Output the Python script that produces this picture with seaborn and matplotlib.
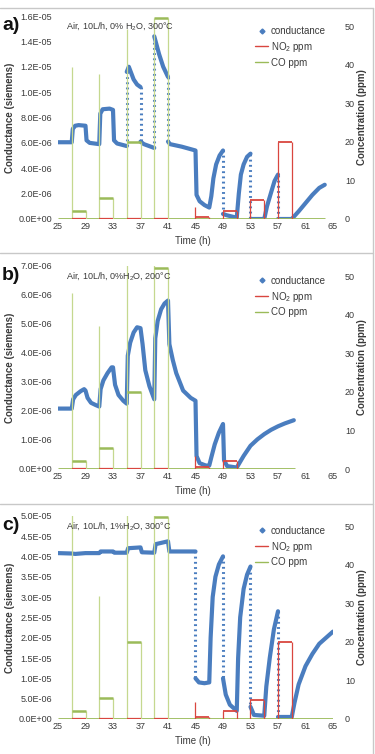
import numpy as np
import pandas as pd
import matplotlib
matplotlib.use('Agg')
import matplotlib.pyplot as plt
from matplotlib.lines import Line2D
from matplotlib.ticker import FuncFormatter
import seaborn as sns

sns.set_theme(style='white')
plt.rcParams['font.family'] = ['Liberation Sans', 'DejaVu Sans']
plt.rcParams['mathtext.default'] = 'regular'

BLUE = '#4a7dbf'
RED = '#d9463f'
GREEN = '#9bbb59'
GREEN_LT = '#c5d88f'
TXT = '#3a3a3a'

# ── data ──────────────────────────────────────────────────────────
# conductance; equal consecutive times mark a fast jump (drawn dotted)
time_a = [25, 27, 27.15, 27.5, 28, 29, 29.15, 29.6, 31, 31.15, 31.5, 32.5, 33, 33.15,
          33.6, 35, 35, 35.3, 36, 36.5, 37, 37, 37.5, 39, 39, 39.3, 39.7, 40.3, 41, 41,
          41.3, 43, 45, 45.15, 45.6, 46.3, 47, 47.3, 47.6, 48, 48.5, 49, 49, 49.5, 51,
          51.3, 51.6, 52, 52.5, 53, 53, 55, 55.4, 56, 56.5, 57, 57, 59, 59.5, 60, 61,
          62, 63, 63.8]
cond_a = [6.05, 6.05, 7.1, 7.35, 7.4, 7.35, 6.2, 6.0, 5.9, 8.3, 8.65, 8.7, 8.6, 6.2,
          5.95, 5.75, 11.6, 12.0, 11.0, 10.6, 10.4, 6.1, 5.9, 5.6, 14.4, 13.8, 13.0,
          12.0, 11.2, 6.1, 5.9, 5.7, 5.4, 1.9, 1.4, 1.1, 0.9, 1.8, 3.2, 4.3, 5.0, 5.4,
          0.4, 0.3, 0.1, 2.0, 3.5, 4.3, 4.9, 5.15, 0.0, 0.0, 1.0, 2.1, 3.0, 3.5, 0.0,
          0.0, 0.3, 0.6, 1.25, 1.9, 2.45, 2.7]  # x 1e-6 S

time_b = [25, 27, 27.2, 27.6, 28.3, 28.8, 29, 29.3, 29.8, 30.5, 31, 31.2, 31.6, 32.2,
          32.8, 33, 33.3, 33.8, 34.5, 35, 35.15, 35.5, 36, 36.5, 37, 37.3, 37.7, 38.3,
          39, 39.15, 39.5, 40, 40.5, 41, 41.2, 41.7, 42.2, 43.2, 44.3, 45, 45.15, 45.6,
          46.5, 47, 47.3, 47.8, 48.4, 49, 49.15, 49.6, 51, 51.5, 52, 53, 54, 55, 56,
          57, 58, 59.3]
cond_b = [2.08, 2.08, 2.4, 2.55, 2.68, 2.75, 2.7, 2.45, 2.28, 2.2, 2.15, 2.75, 3.05,
          3.3, 3.5, 3.5, 2.9, 2.55, 2.35, 2.25, 3.9, 4.35, 4.7, 4.88, 4.85, 4.3, 3.4,
          2.85, 2.4, 4.5, 5.1, 5.5, 5.7, 5.8, 4.3, 3.75, 3.3, 2.7, 2.45, 2.35, 0.45,
          0.2, 0.12, 0.12, 0.4, 0.85, 1.25, 1.55, 0.3, 0.1, 0.05, 0.25, 0.45, 0.8,
          1.02, 1.2, 1.35, 1.47, 1.57, 1.68]  # x 1e-6 S

time_c = [25, 27, 27.5, 29, 31, 31.2, 33, 33.2, 35, 35.2, 37, 37.2, 39, 39.2, 41, 41.2,
          45, 45, 45.5, 46.3, 47, 47.2, 47.5, 47.9, 48.4, 49, 49, 49.4, 50, 51, 51.2,
          51.5, 52, 52.5, 53, 53, 53.5, 55, 55.3, 55.8, 56.4, 57, 57, 59, 59.4, 60, 61,
          62, 63, 64, 65]
cond_c = [4.08, 4.07, 4.06, 4.08, 4.08, 4.12, 4.12, 4.09, 4.09, 4.2, 4.22, 4.1, 4.09,
          4.3, 4.37, 4.12, 4.12, 1.0, 0.9, 0.88, 0.9, 2.0, 3.0, 3.5, 3.8, 4.0, 1.0, 0.6,
          0.35, 0.2, 1.5, 2.5, 3.2, 3.55, 3.75, 0.3, 0.1, 0.08, 0.8, 1.5, 2.2, 2.65,
          0.05, 0.05, 0.4, 0.85, 1.3, 1.6, 1.85, 2.0, 2.15]  # x 1e-5 S

# gas pulses (2 h each): start time, plateau and opening peak in ppm
co_start = [27, 31, 35, 39]
co_level_a = [2, 5.5, 20, 52.2]
co_peak_a = [39.5, 37.6, 49.4, 52.2]
co_level_b = [2, 5.5, 20, 52.2]
co_peak_b = [45.5, 37, 60, 60]
co_level_c = [2, 5.5, 20, 52.4]
co_peak_c = [60, 32, 60, 60]

no2_start_a = [45, 49, 53, 57]
no2_level_a = [0.5, 2, 5, 20]
no2_peak_a = [3.2, 2, 5, 20]
no2_start_b = [45, 49]
no2_level_b = [0.6, 2]
no2_peak_b = [3.4, 2]
no2_start_c = [45, 49, 53, 57]
no2_level_c = [0.6, 2.1, 5, 20]
no2_peak_c = [4.5, 2.1, 5, 20]

end_time = [63.8, 59.5, 65]
cond_scale = [1e-6, 1e-6, 1e-5]
cond_max = [1.6e-5, 7e-6, 5e-5]
cond_step = [2e-6, 1e-6, 5e-6]
panel_tags = ['a)', 'b)', 'c)']
notes = ['Air, 10L/h, 0% H$_2$O, 300°C', 'Air, 10L/h, 0%H$_2$O, 200°C',
         'Air, 10L/h, 1%H$_2$O, 300°C']
x_ticks = list(range(25, 66, 4))
conc_ticks = [0, 10, 20, 30, 40, 50]
PULSE = 2

# ── figure ────────────────────────────────────────────────────────
W, H = 375, 754
fig = plt.figure(figsize=(W / 100, H / 100), dpi=100)

# chart frames
for yb in [7.5, 252.5, 503.5]:
    fig.add_artist(Line2D([0, 373 / W], [1 - yb / H] * 2, transform=fig.transFigure,
                          color='#c8c8c8', lw=1))
fig.add_artist(Line2D([373 / W] * 2, [1 - 7.5 / H, 0], transform=fig.transFigure,
                      color='#c8c8c8', lw=1))

tops = [16, 265.7, 515.7]
bots = [219, 469, 719]
panels = [
    (time_a, cond_a, co_level_a, co_peak_a, no2_start_a, no2_level_a, no2_peak_a),
    (time_b, cond_b, co_level_b, co_peak_b, no2_start_b, no2_level_b, no2_peak_b),
    (time_c, cond_c, co_level_c, co_peak_c, no2_start_c, no2_level_c, no2_peak_c),
]


def draw_conductance(ax, t, g, scale):
    t = np.asarray(t, float)
    g = np.asarray(g, float) * scale
    runs, cur = [], [0]
    for i in range(1, len(t)):
        if t[i] == t[i - 1]:
            runs.append(cur)
            ax.plot(t[i - 1:i + 1], g[i - 1:i + 1], color=BLUE, lw=2.2,
                    ls=(0, (0.6, 1.1)), solid_capstyle='round')
            cur = [i]
        else:
            cur.append(i)
    runs.append(cur)
    for idx in runs:
        df = pd.DataFrame({'t': t[idx], 'g': g[idx]})
        sns.lineplot(data=df, x='t', y='g', ax=ax, color=BLUE, lw=3, sort=False,
                     estimator=None, legend=False)


for k, (t, g, co_lvl, co_pk, n_st, n_lvl, n_pk) in enumerate(panels):
    off = [0, 250, 500][k]
    ax = fig.add_axes([58 / W, 1 - bots[k] / H, 275 / W, (bots[k] - tops[k]) / H])
    draw_conductance(ax, t, g, cond_scale[k])
    ax.set_xlim(25, 65)
    ax.set_ylim(0, cond_max[k])
    ax.set_xticks(x_ticks)
    ax.set_yticks(np.arange(0, cond_max[k] + cond_step[k] / 2, cond_step[k]))
    ax.yaxis.set_major_formatter(FuncFormatter(lambda v, p: f'{v:.1E}'))
    ax.tick_params(length=0, labelsize=6.5, labelcolor=TXT)
    ax.tick_params(axis='y', pad=4.3)
    ax.tick_params(axis='x', pad=2.5)
    ax.set_xlabel('Time (h)', fontsize=7, color=TXT)
    ax.xaxis.set_label_coords(0.49, -0.085)
    ax.set_ylabel('Conductance (siemens)', fontsize=7, fontweight='bold', color=TXT)
    ax.yaxis.set_label_coords(-0.158, 0.5)
    for s in ax.spines.values():
        s.set_visible(False)

    ax2 = ax.twinx()
    ax2.set_ylim(0, 52.7)
    ax2.set_yticks(conc_ticks)
    ax2.tick_params(length=0, labelsize=6.5, labelcolor=TXT, pad=8.6)
    ax2.set_ylabel('Concentration (ppm)', fontsize=7, fontweight='bold', color=TXT)
    ax2.yaxis.set_label_coords(1.089, 0.5)
    for s in ax2.spines.values():
        s.set_visible(False)

    # CO pulses
    ax2.hlines(0, 25, end_time[k], color=GREEN, lw=2)
    for s0, lv, pk in zip(co_start, co_lvl, co_pk):
        ax2.vlines(s0, 0, pk, color=GREEN_LT, lw=0.9)
        ax2.vlines(s0 + PULSE, 0, lv, color=GREEN_LT, lw=0.9)
        ax2.hlines(lv, s0, s0 + PULSE, color=GREEN, lw=1.8)
        ax2.hlines(0, s0, s0 + PULSE, color=RED, lw=1.6)
    # NO2 pulses
    for s0, lv, pk in zip(n_st, n_lvl, n_pk):
        ax2.vlines(s0, 0, pk, color=RED, lw=0.9)
        ax2.vlines(s0 + PULSE, 0, lv, color=RED, lw=0.9)
        ax2.hlines(lv, s0, s0 + PULSE, color=RED, lw=1.3)

    handles = [Line2D([], [], ls='', marker='D', markersize=2.5, color=BLUE),
               Line2D([], [], color=RED, lw=1),
               Line2D([], [], color=GREEN, lw=1)]
    ax2.legend(handles, ['conductance', 'NO$_2$ ppm', 'CO ppm'], loc='upper left',
               bbox_to_anchor=(0.70, 0.975), frameon=False, fontsize=7,
               handlelength=1.3, handletextpad=0.3, labelspacing=0.4, borderpad=0,
               labelcolor=TXT)

    fig.text(11 / W, 1 - (25 + off) / H, panel_tags[k], fontsize=14,
             fontweight='bold', ha='center', va='center', color='#111111')
    fig.text(66 / W, 1 - (26 + off) / H, notes[k], fontsize=6.5, va='center',
             color=TXT)

fig.savefig('out.png', dpi=100)
